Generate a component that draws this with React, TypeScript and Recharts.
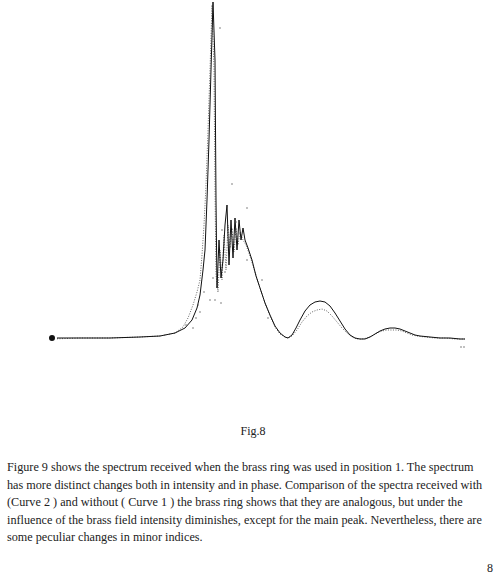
import { ComposedChart, Line, Scatter, XAxis, YAxis } from 'recharts'

// frequency positions and intensities
const curve1X = [52, 80, 110, 140, 160, 175, 185, 192, 197, 200, 203, 205, 207, 209, 211, 213, 215, 216, 217, 219, 221, 223, 225, 227, 229, 231, 233, 235, 237, 239, 241, 243, 245, 248, 252, 256, 260, 265, 270, 275, 280, 285, 288, 292, 296, 300, 305, 310, 315, 320, 325, 330, 335, 340, 345, 350, 355, 360, 365, 370, 375, 380, 385, 390, 395, 400, 405, 410, 415, 420, 430, 440, 450, 460, 465]
const curve1 = [2, 2, 2, 3, 4, 7, 12, 20, 32, 45, 70, 90, 140, 200, 270, 338, 280, 140, 52, 100, 62, 80, 115, 135, 75, 120, 82, 122, 90, 120, 100, 112, 100, 92, 80, 64, 52, 37, 25, 14, 7, 3, 2, 5, 12, 20, 29, 35, 38, 39, 38, 34, 27, 19, 11, 5, 2, 1, 1, 3, 6, 9, 11, 12, 12, 11, 9, 7, 5, 4, 3, 2, 2, 1, 1]

const curve2X = [52, 80, 110, 140, 160, 175, 183, 188, 193, 197, 200, 202, 204, 206, 208, 210, 212, 214, 215, 216, 218, 220, 222, 224, 226, 228, 230, 232, 234, 236, 238, 240, 243, 246, 250, 255, 260, 265, 270, 275, 280, 285, 288, 292, 297, 302, 307, 312, 317, 322, 327, 332, 337, 342, 347, 352, 357, 362, 367, 372, 377, 382, 387, 392, 397, 402, 407, 412, 417, 425, 435, 445, 455, 465]
const curve2 = [1, 2, 2, 3, 4, 7, 13, 22, 35, 48, 60, 85, 115, 155, 210, 270, 335, 270, 150, 65, 48, 90, 60, 105, 70, 115, 92, 112, 88, 112, 95, 108, 100, 95, 84, 68, 52, 37, 24, 13, 6, 3, 2, 4, 10, 18, 24, 28, 30, 31, 29, 24, 18, 12, 7, 3, 1, 1, 2, 4, 7, 9, 10, 10, 10, 9, 7, 5, 4, 3, 2, 2, 1, 1]

// loose dots scattered around the noisy part
const strayX = [186, 193, 196, 198, 200, 204, 210, 213, 215, 220, 221, 222, 225, 232, 236, 247, 247, 262, 268, 461, 464]
const strayV = [15, 12, 22, 35, 28, 48, 40, 62, 40, 312, 37, 110, 68, 156, 118, 80, 132, 60, 22, -7, -7]

const paragraph = [
  'Figure 9 shows the spectrum received when the brass ring was used in position 1. The spectrum',
  'has more distinct changes both in intensity and in phase. Comparison of the spectra received with',
  '(Curve 2 ) and without  ( Curve 1 ) the brass ring shows that they are analogous, but under the',
  'influence of the brass field intensity diminishes, except for the main peak. Nevertheless, there are',
  'some peculiar changes in minor indices.',
]

const line1 = curve1X.map((x, i) => ({ x, v: curve1[i] }))
const line2 = curve2X.map((x, i) => ({ x, v: curve2[i] }))
const strays = strayX.map((x, i) => ({ x, v: strayV[i] }))

const Dot = (props: any) => <circle cx={props.cx} cy={props.cy} r={0.7} fill="#555" />

export default function App() {
  return (
    <div style={{ position: 'absolute', left: 0, top: 0, width: 500, height: 579, background: '#fff', fontFamily: '"Liberation Serif", "Times New Roman", serif', color: '#222' }}>
      <ComposedChart width={500} height={350} margin={{ top: 0, right: 0, bottom: 0, left: 0 }}>
        <XAxis type="number" dataKey="x" domain={[0, 500]} hide />
        <YAxis type="number" domain={[-10, 340]} hide />
        <Line data={line2} dataKey="v" type="linear" stroke="#666" strokeWidth={1} strokeDasharray="1 1.5" dot={false} isAnimationActive={false} />
        <Line data={line1} dataKey="v" type="linear" stroke="#111" strokeWidth={1} dot={false} isAnimationActive={false} />
        <Scatter data={strays} dataKey="v" shape={Dot} isAnimationActive={false} />
      </ComposedChart>

      <div style={{ position: 'absolute', left: 0, width: 506, top: 424, textAlign: 'center', fontSize: 12 }}>Fig.8</div>

      {paragraph.map((t, i) => (
        <div key={i} style={{ position: 'absolute', left: 7, top: 460 + i * 17.5, fontSize: 12.2, whiteSpace: 'nowrap' }}>{t}</div>
      ))}

      <div style={{ position: 'absolute', left: 487, top: 561, fontSize: 12 }}>8</div>
    </div>
  )
}
